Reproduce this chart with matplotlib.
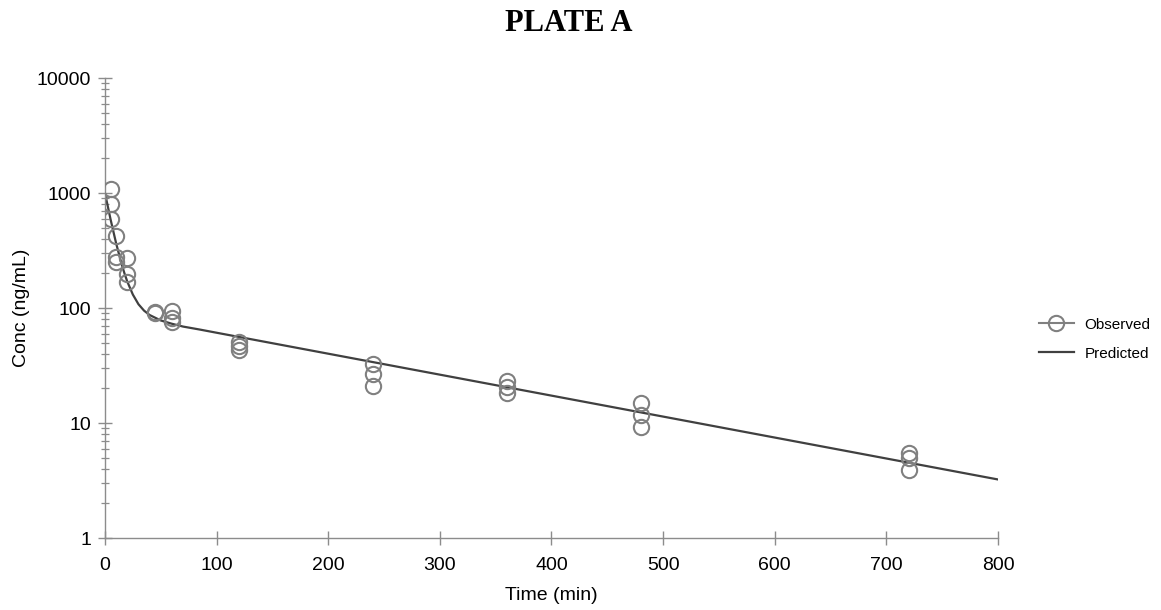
import numpy as np
import matplotlib
matplotlib.use('Agg')
from matplotlib import pyplot as plt
from matplotlib.lines import Line2D
from matplotlib.ticker import LogLocator, FixedLocator, NullFormatter

# observed concentrations (ng/mL), three per sampling time
obs_time = [5, 5, 5, 10, 10, 10, 20, 20, 20, 45, 45, 60, 60, 60,
            120, 120, 120, 240, 240, 240, 360, 360, 360,
            480, 480, 480, 720, 720, 720]
obs_conc = [1084, 800, 590, 423, 279, 252, 271, 197, 167, 93, 90, 94, 82, 76,
            51, 46.5, 43, 32.4, 26.7, 21.1, 23.2, 20.7, 18.3,
            14.8, 11.7, 9.3, 5.46, 4.93, 3.9]

# model prediction
pred_time = [0, 2.5, 5, 7.5, 10, 12.5, 15, 17.5, 20, 25, 30, 35, 40, 50, 60, 70, 85, 100, 800]
pred_conc = [1000, 770, 592, 465, 366, 296, 240, 200, 170, 131, 108, 95, 87, 78, 73, 69, 65, 61, 3.23]

x_ticks = [0, 100, 200, 300, 400, 500, 600, 700, 800]
y_ticks = [1, 10, 100, 1000, 10000]
y_tick_labels = ['1', '10', '100', '1000', '10000']

axis_grey = '#8c8c8c'

fig = plt.figure(figsize=(11.61, 6.10), dpi=100)
ax = fig.add_axes([0.0904, 0.118, 0.7692, 0.754])

ax.plot(pred_time, pred_conc, color='#404040', lw=1.6, zorder=2)
ax.plot(obs_time, obs_conc, ls='none', marker='o', ms=11, mfc='none',
        mec='#808080', mew=1.5, zorder=3)

ax.set_yscale('log')
ax.set_xlim(0, 800)
ax.set_ylim(1, 10000)
ax.xaxis.set_major_locator(FixedLocator(x_ticks))
ax.yaxis.set_major_locator(FixedLocator(y_ticks))
ax.set_yticklabels(y_tick_labels)
ax.yaxis.set_minor_locator(LogLocator(base=10, subs=np.arange(2, 10)))
ax.yaxis.set_minor_formatter(NullFormatter())

for side in ['top', 'right']:
    ax.spines[side].set_visible(False)
for side in ['left', 'bottom']:
    ax.spines[side].set_color(axis_grey)
    ax.spines[side].set_linewidth(1.0)

ax.tick_params(axis='both', which='major', direction='inout', length=10,
               width=1.0, color=axis_grey, labelsize=14)
ax.tick_params(axis='x', which='major', pad=9)
ax.tick_params(axis='y', which='major', pad=5)
ax.tick_params(axis='y', which='minor', direction='inout', length=6,
               width=0.9, color=axis_grey)
for label in (ax.get_xticklabels() + ax.get_yticklabels()):
    label.set_fontfamily('Liberation Sans')

ax.set_xlabel('Time (min)', fontsize=14, family='Liberation Sans', labelpad=9)
ax.set_ylabel('Conc (ng/mL)', fontsize=14, family='Liberation Sans', labelpad=5)

fig.text(0.49, 0.962, 'PLATE A', ha='center', va='center', fontsize=22,
         fontweight='bold', family='Liberation Serif')

handles = [Line2D([], [], color='#808080', lw=1.5, marker='o', ms=11,
                  mfc='none', mec='#808080', mew=1.5),
           Line2D([], [], color='#404040', lw=1.6)]
fig.legend(handles, ['Observed', 'Predicted'], loc='center left',
           bbox_to_anchor=(0.883, 0.444), frameon=False,
           prop={'family': 'Liberation Sans', 'size': 11},
           handlelength=2.3, labelspacing=1.0, handletextpad=0.7)

plt.savefig('out.png', dpi=100)
